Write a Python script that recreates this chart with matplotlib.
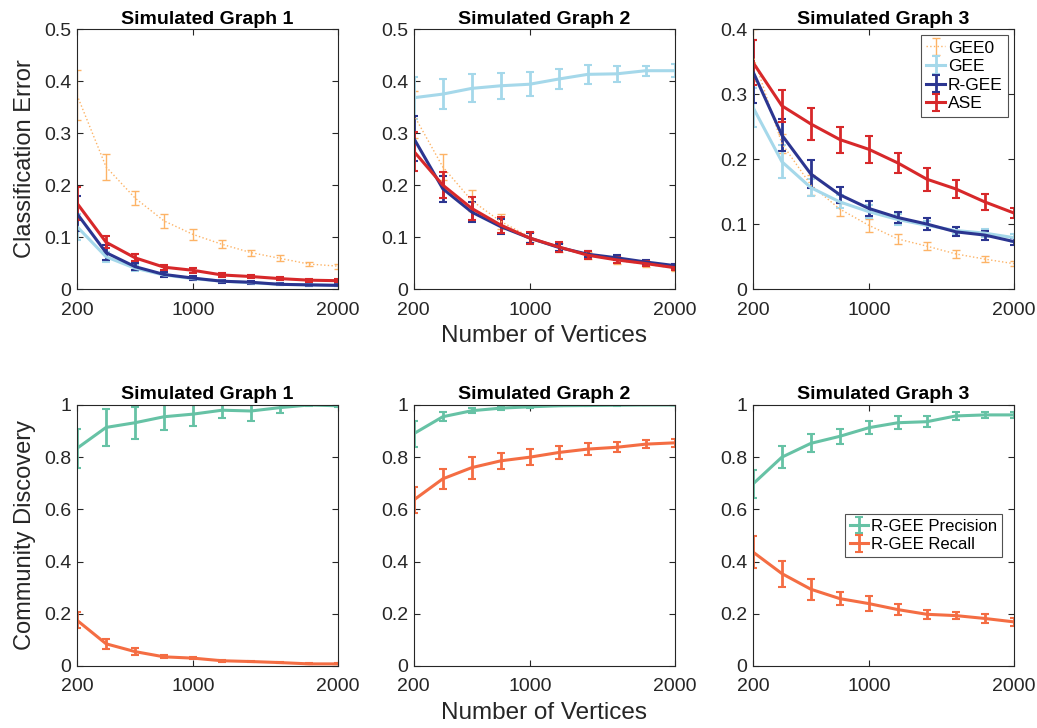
import numpy as np
import matplotlib.pyplot as plt

plt.rcParams['font.family'] = ['Liberation Sans', 'DejaVu Sans']

# number of vertices
n_vertices = [200, 400, 600, 800, 1000, 1200, 1400, 1600, 1800, 2000]

# --- classification error (top row) ---
# Simulated Graph 1
g1_gee0 = [0.373, 0.235, 0.175, 0.131, 0.105, 0.086, 0.070, 0.059, 0.048, 0.044]
g1_gee0_err = [0.048, 0.025, 0.013, 0.014, 0.010, 0.008, 0.006, 0.006, 0.004, 0.005]
g1_gee = [0.120, 0.062, 0.040, 0.027, 0.020, 0.015, 0.012, 0.009, 0.008, 0.007]
g1_gee_err = [0.025, 0.010, 0.006, 0.004, 0.003, 0.003, 0.002, 0.002, 0.002, 0.002]
g1_rgee = [0.145, 0.070, 0.043, 0.028, 0.021, 0.015, 0.013, 0.009, 0.008, 0.007]
g1_rgee_err = [0.033, 0.014, 0.007, 0.005, 0.004, 0.003, 0.003, 0.002, 0.002, 0.002]
g1_ase = [0.165, 0.090, 0.060, 0.042, 0.036, 0.027, 0.024, 0.020, 0.017, 0.016]
g1_ase_err = [0.032, 0.012, 0.007, 0.005, 0.005, 0.004, 0.003, 0.003, 0.003, 0.003]

# Simulated Graph 2
g2_gee0 = [0.335, 0.235, 0.170, 0.130, 0.100, 0.080, 0.065, 0.055, 0.048, 0.040]
g2_gee0_err = [0.045, 0.025, 0.020, 0.015, 0.010, 0.008, 0.007, 0.006, 0.005, 0.005]
g2_gee = [0.368, 0.375, 0.386, 0.391, 0.394, 0.404, 0.413, 0.414, 0.420, 0.420]
g2_gee_err = [0.040, 0.029, 0.027, 0.025, 0.023, 0.020, 0.018, 0.016, 0.010, 0.012]
g2_rgee = [0.290, 0.193, 0.148, 0.120, 0.098, 0.080, 0.067, 0.060, 0.052, 0.045]
g2_rgee_err = [0.043, 0.025, 0.020, 0.015, 0.010, 0.007, 0.006, 0.005, 0.004, 0.004]
g2_ase = [0.265, 0.200, 0.155, 0.123, 0.098, 0.081, 0.065, 0.056, 0.049, 0.041]
g2_ase_err = [0.038, 0.025, 0.022, 0.015, 0.012, 0.009, 0.008, 0.006, 0.005, 0.005]

# Simulated Graph 3
g3_gee0 = [0.360, 0.224, 0.160, 0.123, 0.098, 0.077, 0.066, 0.054, 0.046, 0.039]
g3_gee0_err = [0.040, 0.015, 0.015, 0.010, 0.010, 0.008, 0.006, 0.006, 0.005, 0.004]
g3_gee = [0.280, 0.196, 0.156, 0.134, 0.119, 0.107, 0.098, 0.090, 0.086, 0.079]
g3_gee_err = [0.030, 0.025, 0.013, 0.010, 0.010, 0.008, 0.007, 0.006, 0.006, 0.006]
g3_rgee = [0.335, 0.237, 0.177, 0.145, 0.124, 0.110, 0.100, 0.088, 0.083, 0.073]
g3_rgee_err = [0.048, 0.025, 0.021, 0.012, 0.012, 0.009, 0.009, 0.007, 0.007, 0.006]
g3_ase = [0.349, 0.282, 0.254, 0.230, 0.215, 0.194, 0.169, 0.154, 0.134, 0.117]
g3_ase_err = [0.035, 0.025, 0.025, 0.020, 0.021, 0.015, 0.018, 0.014, 0.012, 0.007]

# --- community discovery (bottom row) ---
g1_prec = [0.834, 0.914, 0.932, 0.955, 0.965, 0.980, 0.977, 0.990, 1.000, 0.997]
g1_prec_err = [0.075, 0.070, 0.062, 0.050, 0.045, 0.030, 0.037, 0.020, 0.002, 0.006]
g1_rec = [0.175, 0.085, 0.055, 0.035, 0.030, 0.020, 0.017, 0.013, 0.008, 0.008]
g1_rec_err = [0.030, 0.020, 0.012, 0.006, 0.005, 0.004, 0.003, 0.003, 0.002, 0.002]

g2_prec = [0.890, 0.955, 0.978, 0.988, 0.993, 0.997, 0.998, 0.999, 1.000, 1.000]
g2_prec_err = [0.050, 0.018, 0.010, 0.006, 0.004, 0.002, 0.002, 0.001, 0.001, 0.001]
g2_rec = [0.636, 0.717, 0.760, 0.786, 0.800, 0.818, 0.831, 0.838, 0.850, 0.855]
g2_rec_err = [0.048, 0.038, 0.042, 0.030, 0.030, 0.025, 0.022, 0.020, 0.016, 0.015]

g3_prec = [0.697, 0.800, 0.853, 0.880, 0.913, 0.932, 0.936, 0.958, 0.962, 0.962]
g3_prec_err = [0.052, 0.043, 0.035, 0.028, 0.025, 0.025, 0.022, 0.016, 0.012, 0.012]
g3_rec = [0.437, 0.354, 0.294, 0.258, 0.239, 0.216, 0.198, 0.193, 0.182, 0.169]
g3_rec_err = [0.060, 0.050, 0.040, 0.025, 0.028, 0.020, 0.018, 0.014, 0.018, 0.014]

c_gee0 = '#fdb366'
c_gee = '#a5d8ea'
c_rgee = '#2b3590'
c_ase = '#d7282a'
c_prec = '#66c2a5'
c_rec = '#f46d43'
c_text = '#262626'

fig = plt.figure(figsize=(10.37, 7.28), dpi=100)

lefts = [0.0743, 0.399, 0.726]
width = 0.2517
top_row = [fig.add_axes([l, 0.603, width, 0.357]) for l in lefts]
bot_row = [fig.add_axes([l, 0.0852, width, 0.3585]) for l in lefts]

err_style = dict(capsize=3, elinewidth=2.0, capthick=1.5)

top_data = [
    (g1_gee0, g1_gee0_err, g1_gee, g1_gee_err, g1_rgee, g1_rgee_err, g1_ase, g1_ase_err),
    (g2_gee0, g2_gee0_err, g2_gee, g2_gee_err, g2_rgee, g2_rgee_err, g2_ase, g2_ase_err),
    (g3_gee0, g3_gee0_err, g3_gee, g3_gee_err, g3_rgee, g3_rgee_err, g3_ase, g3_ase_err),
]
top_ylim = [0.5, 0.5, 0.4]

for i, ax in enumerate(top_row):
    gee0, gee0_e, gee, gee_e, rgee, rgee_e, ase, ase_e = top_data[i]
    ax.errorbar(n_vertices, gee0, yerr=gee0_e, color=c_gee0, lw=1.0, ls=':',
                capsize=3, elinewidth=1.0, capthick=1.0, label='GEE0')
    ax.errorbar(n_vertices, gee, yerr=gee_e, color=c_gee, lw=2.2, label='GEE', **err_style)
    ax.errorbar(n_vertices, rgee, yerr=rgee_e, color=c_rgee, lw=2.2, label='R-GEE', **err_style)
    ax.errorbar(n_vertices, ase, yerr=ase_e, color=c_ase, lw=2.2, label='ASE', **err_style)
    ax.set_ylim(0, top_ylim[i])
    ax.set_title('Simulated Graph %d' % (i + 1), fontsize=14, fontweight='bold', pad=4)

for ax in top_row[:2]:
    ax.set_yticks([0, 0.1, 0.2, 0.3, 0.4, 0.5])
    ax.set_yticklabels(['0', '0.1', '0.2', '0.3', '0.4', '0.5'])
top_row[2].set_yticks([0, 0.1, 0.2, 0.3, 0.4])
top_row[2].set_yticklabels(['0', '0.1', '0.2', '0.3', '0.4'])

bot_data = [
    (g1_prec, g1_prec_err, g1_rec, g1_rec_err),
    (g2_prec, g2_prec_err, g2_rec, g2_rec_err),
    (g3_prec, g3_prec_err, g3_rec, g3_rec_err),
]
for i, ax in enumerate(bot_row):
    prec, prec_e, rec, rec_e = bot_data[i]
    ax.errorbar(n_vertices, prec, yerr=prec_e, color=c_prec, lw=2.2,
                label='R-GEE Precision', **err_style)
    ax.errorbar(n_vertices, rec, yerr=rec_e, color=c_rec, lw=2.2,
                label='R-GEE Recall', **err_style)
    ax.set_ylim(0, 1)
    ax.set_yticks([0, 0.2, 0.4, 0.6, 0.8, 1])
    ax.set_yticklabels(['0', '0.2', '0.4', '0.6', '0.8', '1'])
    ax.set_title('Simulated Graph %d' % (i + 1), fontsize=14, fontweight='bold', pad=4)

for ax in top_row + bot_row:
    ax.set_xlim(200, 2000)
    ax.set_xticks([200, 1000, 2000])
    ax.set_xticklabels(['200', '1000', '2000'])
    ax.tick_params(direction='in', top=True, right=True, labelsize=14,
                   colors=c_text, length=4, width=0.8)
    ax.tick_params(axis='x', pad=9)
    ax.tick_params(axis='y', pad=4)
    for s in ax.spines.values():
        s.set_color(c_text)
        s.set_linewidth(0.8)

top_row[0].set_ylabel('Classification Error', fontsize=17, color=c_text, labelpad=6)
bot_row[0].set_ylabel('Community Discovery', fontsize=17, color=c_text, labelpad=6)
top_row[1].set_xlabel('Number of Vertices', fontsize=17.5, color=c_text, labelpad=5)
bot_row[1].set_xlabel('Number of Vertices', fontsize=17.5, color=c_text, labelpad=5)

leg = top_row[2].legend(loc='upper right', fontsize=12.5, frameon=True, fancybox=False,
                        edgecolor=c_text, borderpad=0.3, handlelength=1.1,
                        handletextpad=0.15, labelspacing=0.2, borderaxespad=0.35)
leg.get_frame().set_linewidth(0.8)
leg2 = bot_row[2].legend(loc='center right', bbox_to_anchor=(0.985, 0.5), fontsize=12,
                         frameon=True, fancybox=False, edgecolor=c_text, borderpad=0.3,
                         handlelength=1.1, handletextpad=0.15, labelspacing=0.2)
leg2.get_frame().set_linewidth(0.8)

fig.savefig('out.png', dpi=100)
